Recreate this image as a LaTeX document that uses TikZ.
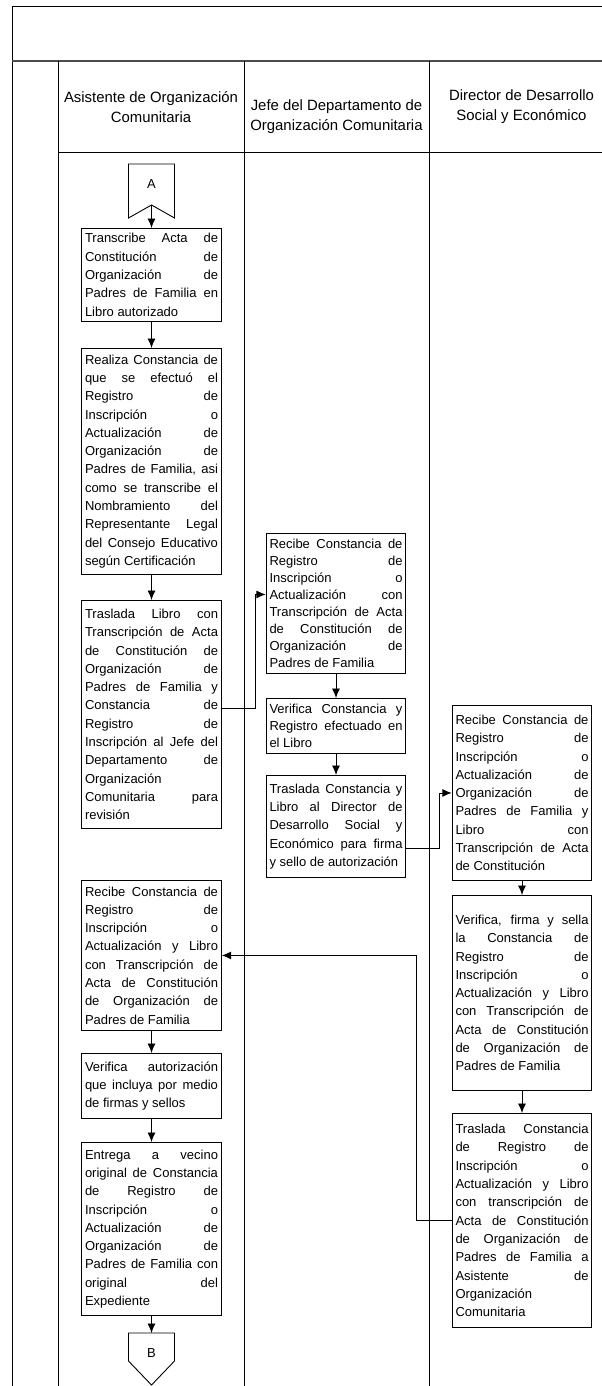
\documentclass[tikz,border=0pt]{standalone}
\usepackage{fontspec}
\setmainfont{Liberation Sans}
\usetikzlibrary{arrows.meta}
\setlength{\parindent}{0pt}
\tolerance=10000 \hbadness=10000 \hyphenpenalty=10000 \exhyphenpenalty=10000

\tikzset{
	proc/.style={draw, line width=0.9pt, anchor=north, text width=133pt, inner xsep=3.25pt, inner ysep=2pt, align=justify, font=\fontsize{13}{18.3}\selectfont},
	tight/.style={font=\fontsize{13}{17}\selectfont},
	hdr/.style={align=center, font=\fontsize{14.9}{20}\selectfont},
	lane/.style={line width=1pt},
	arr/.style={line width=0.9pt, -{Latex[length=9.5pt,width=8pt]}},
}

\begin{document}
\begin{tikzpicture}[x=1pt, y=-1pt]
	\path[use as bounding box] (0,0) rectangle (602,1386);
	\clip (0,0) rectangle (602,1386);
	% Frame and lanes:
	\draw[lane] (12,1390) -- (12,7) -- (620,7);
	\draw[line width=2.5pt, black!70] (12,61) -- (620,61);
	\draw[lane] (58,61) -- (58,1390);
	\draw[lane] (58,152) -- (620,152);
	\foreach \x in {244,429,614}
		\draw[lane] (\x,61) -- (\x,1390);
	\node[hdr] (h1) at (151,107) {Asistente de Organización\\Comunitaria};
	\node[hdr] (h2) at (336.5,117) {Jefe del Departamento de\\Organización Comunitaria};
	\node[hdr] (h3) at (521.5,107) {Director de Desarrollo\\Social y Económico};

	% Asistente de Organización Comunitaria:
	\draw[line width=0.9pt] (128.5,164) -- (174.5,164) -- (174.5,218) -- (151.5,205) -- (128.5,218) -- cycle;
	\coordinate (aTip) at (151.5,205);
	\node[font=\fontsize{13}{16}\selectfont] (aLbl) at (151.5,184) {A};
	\node[proc, minimum height=93pt] (t1) at (151.5,228) {Transcribe Acta de\linebreak Constitución de\linebreak Organización de\linebreak Padres de Familia en\linebreak Libro autorizado};
	\node[proc, minimum height=226pt] (t2) at (151.5,348) {Realiza Constancia de\linebreak que se efectuó el\linebreak Registro de\linebreak Inscripción o\linebreak Actualización de\linebreak Organización de\linebreak Padres de Familia, asi\linebreak como se transcribe el\linebreak Nombramiento del\linebreak Representante Legal\linebreak del Consejo Educativo\linebreak según Certificación};
	\node[proc, minimum height=228pt] (t3) at (151.5,600) {Traslada Libro con\linebreak Transcripción de Acta\linebreak de Constitución de\linebreak Organización de\linebreak Padres de Familia y\linebreak Constancia de\linebreak Registro de\linebreak Inscripción al Jefe del\linebreak Departamento de\linebreak Organización\linebreak Comunitaria para\linebreak revisión};
	\node[proc, minimum height=150pt] (t4) at (151.5,880) {Recibe Constancia de\linebreak Registro de\linebreak Inscripción o\linebreak Actualización y Libro\linebreak con Transcripción de\linebreak Acta de Constitución\linebreak de Organización de\linebreak Padres de Familia};
	\node[proc, minimum height=65pt] (t5) at (151.5,1053) {Verifica autorización\linebreak que incluya por medio\linebreak de firmas y sellos};
	\node[proc, minimum height=173pt] (t6) at (151.5,1142) {Entrega a vecino\linebreak original de Constancia\linebreak de Registro de\linebreak Inscripción o\linebreak Actualización de\linebreak Organización de\linebreak Padres de Familia con\linebreak original del\linebreak Expediente};
	\coordinate (bTop) at (151.5,1333);
	\draw[line width=0.9pt] (128.5,1333) -- (174.5,1333) -- (174.5,1361) -- (151.5,1385) -- (128.5,1361) -- cycle;
	\node[font=\fontsize{13}{16}\selectfont] (bLbl) at (151.5,1353) {B};

	% Jefe del Departamento:
	\node[proc, tight, minimum height=140pt] (j1) at (336,533) {Recibe Constancia de\linebreak Registro de\linebreak Inscripción o\linebreak Actualización con\linebreak Transcripción de Acta\linebreak de Constitución de\linebreak Organización de\linebreak Padres de Familia};
	\node[proc, tight, minimum height=55pt] (j2) at (336,698) {Verifica Constancia y\linebreak Registro efectuado en\linebreak el Libro};
	\node[proc, minimum height=102pt] (j3) at (336,775) {Traslada Constancia y\linebreak Libro al Director de\linebreak Desarrollo Social y\linebreak Económico para firma\linebreak y sello de autorización};

	% Director de Desarrollo:
	\node[proc, minimum height=175pt] (d1) at (522,705) {Recibe Constancia de\linebreak Registro de\linebreak Inscripción o\linebreak Actualización de\linebreak Organización de\linebreak Padres de Familia y\linebreak Libro con\linebreak Transcripción de Acta\linebreak de Constitución};
	\node[proc, minimum height=195pt] (d2) at (522,895) {Verifica, firma y sella\linebreak la Constancia de\linebreak Registro de\linebreak Inscripción o\linebreak Actualización y Libro\linebreak con Transcripción de\linebreak Acta de Constitución\linebreak de Organización de\linebreak Padres de Familia};
	\node[proc, minimum height=214pt] (d3) at (522,1113) {Traslada Constancia\linebreak de Registro de\linebreak Inscripción o\linebreak Actualización y Libro\linebreak con transcripción de\linebreak Acta de Constitución\linebreak de Organización de\linebreak Padres de Familia a\linebreak Asistente de\linebreak Organización\linebreak Comunitaria};

	% Flow:
	\draw[arr] (aTip) -- (t1);
	\draw[arr] (t1) -- (t2);
	\draw[arr] (t2) -- (t3);
	\draw[arr] ([yshift=6pt]t3.east) -- ++(34,0) |- ([yshift=9pt]j1.west);
	\draw[arr] (j1) -- (j2);
	\draw[arr] (j2) -- (j3);
	\draw[arr] ([yshift=-22pt]j3.east) -- ++(33,0) |- (d1.west);
	\draw[arr] (d1) -- (d2);
	\draw[arr] (d2) -- (d3);
	\draw[arr] (d3.west) -- ++(-35,0) |- (t4.east);
	\draw[arr] (t4) -- (t5);
	\draw[arr] (t5) -- (t6);
	\draw[arr] (t6) -- (bTop);
\end{tikzpicture}
\end{document}
